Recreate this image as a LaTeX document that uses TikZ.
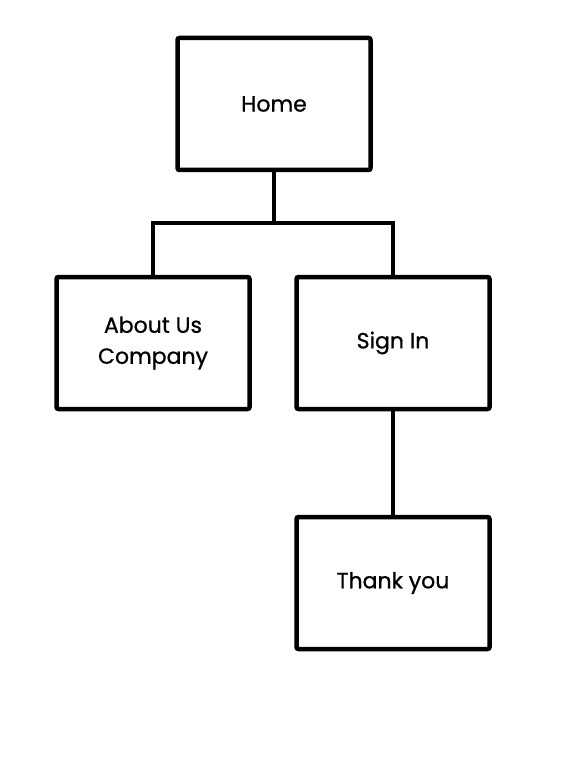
\documentclass[tikz,border=0pt]{standalone}
\usepackage{fontspec}
\setmainfont{Poppins}[FakeBold=0.8]
\usetikzlibrary{positioning}
\tikzset{
    page-box/.style = {draw=black, fill=white, line width=4.5pt, rectangle, rounded corners=2pt, minimum width=193pt, minimum height=132pt, align=center, font=\fontsize{22}{31}\selectfont},
    page-link/.style = {draw=black, line width=3.5pt},
}
\begin{document}
\begin{tikzpicture}[x=1pt, y=1pt]
\useasboundingbox (0,0) rectangle (571,-759);
\node [page-box] (home) at (274,-104) {Home};
\node [page-box] (about) at (153,-343) {About Us\\Company};
\node [page-box, right=42.5pt of about] (signin) {Sign In};
\node [page-box, below=103.5pt of signin] (thanks) {Thank you};
\coordinate (split) at (274,-223);
\draw [page-link] (home.south) -- (split);
\draw [page-link] (about.north) |- (split) -| (signin.north);
\draw [page-link] (signin.south) -- (thanks.north);
\end{tikzpicture}
\end{document}
